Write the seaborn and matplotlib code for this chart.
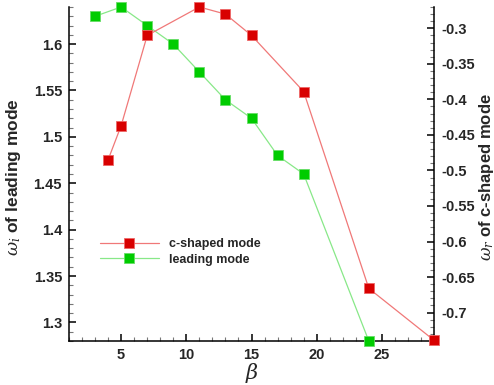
import numpy as np
import pandas as pd
import matplotlib
matplotlib.use("Agg")
import matplotlib.pyplot as plt
from matplotlib.lines import Line2D
from matplotlib.ticker import MultipleLocator
import seaborn as sns

# data
beta_c = [4, 5, 7, 11, 13, 15, 19, 24, 29]
omega_r_c = [-0.485, -0.437, -0.31, -0.27, -0.28, -0.31, -0.389, -0.666, -0.739]
beta_lead = [3, 5, 7, 9, 11, 13, 15, 17, 19, 24]
omega_i_lead = [1.63, 1.64, 1.62, 1.60, 1.57, 1.54, 1.52, 1.48, 1.46, 1.28]
label_c = "c-shaped mode"
label_lead = "leading mode"

sns.set_theme(style="ticks")
plt.rcParams['font.family'] = ['Liberation Sans', 'DejaVu Sans']
plt.rcParams['mathtext.fontset'] = 'dejavuserif'

fig = plt.figure(figsize=(4.94, 3.85), dpi=100)
ax = fig.add_axes([69/494, 1-341/385, (434-69)/494, (341-7)/385])
ax2 = ax.twinx()

red_face = "#d80000"
red_line = "#f07878"
green_face = "#00cc00"
green_line = "#88e888"

df_l = pd.DataFrame({"beta": beta_lead, "w": omega_i_lead})
df_c = pd.DataFrame({"beta": beta_c, "w": omega_r_c})

sns.lineplot(data=df_l, x="beta", y="w", ax=ax, color=green_line, lw=0.9,
             marker="s", markersize=7.5, markerfacecolor=green_face,
             markeredgecolor="#66dd66", markeredgewidth=0.6, clip_on=False, zorder=3)
sns.lineplot(data=df_c, x="beta", y="w", ax=ax2, color=red_line, lw=0.9,
             marker="s", markersize=7.5, markerfacecolor=red_face,
             markeredgecolor="#ee6666", markeredgewidth=0.6, clip_on=False, zorder=3)

ax.set_xlim(1, 29)
ax.set_ylim(1.28, 1.64)
ax2.set_ylim(-0.74, -0.27)

ax.xaxis.set_major_locator(MultipleLocator(5))
ax.xaxis.set_minor_locator(MultipleLocator(1))
ax.yaxis.set_major_locator(MultipleLocator(0.05))
ax.yaxis.set_minor_locator(MultipleLocator(0.01))
ax2.yaxis.set_major_locator(MultipleLocator(0.05))
ax2.yaxis.set_minor_locator(MultipleLocator(0.01))

def fmt(v, pos):
    s = f"{v:.2f}".rstrip('0').rstrip('.')
    return s
ax.yaxis.set_major_formatter(matplotlib.ticker.FuncFormatter(fmt))
ax2.yaxis.set_major_formatter(matplotlib.ticker.FuncFormatter(fmt))
ax.xaxis.set_major_formatter(matplotlib.ticker.FuncFormatter(fmt))

for a in (ax, ax2):
    a.tick_params(which="major", direction="in", length=5, width=1.1, color="black",
                  labelsize=10.5, pad=5)
    a.tick_params(which="minor", direction="in", length=3, width=0.8, color="#777777")
    for lab in a.get_xticklabels() + a.get_yticklabels():
        lab.set_fontweight("bold")
    a.spines["top"].set_visible(False)
    for s in ("left", "right", "bottom"):
        a.spines[s].set_linewidth(1.1)
        a.spines[s].set_color("black")
ax2.spines["left"].set_visible(False)
ax2.spines["bottom"].set_visible(False)
ax.spines["right"].set_visible(False)

ax.set_xlabel(r"$\beta$", fontsize=15, labelpad=-1)
ax.set_ylabel(r"$\omega_i$ of leading mode", fontsize=12.5, fontweight="bold")
ax.yaxis.set_label_coords((23-69)/365, 0.49)
ax2.set_ylabel(r"$\omega_r$ of c-shaped mode", fontsize=12, fontweight="bold",
               va="center")
ax2.yaxis.set_label_coords((486-69)/365, 0.49)

handles = [
    Line2D([], [], color=red_line, lw=0.9, marker="s", markersize=7.5,
           markerfacecolor=red_face, markeredgecolor="#ee6666", markeredgewidth=0.6),
    Line2D([], [], color=green_line, lw=0.9, marker="s", markersize=7.5,
           markerfacecolor=green_face, markeredgecolor="#66dd66", markeredgewidth=0.6),
]
ax2.legend(handles, [label_c, label_lead], loc="upper left",
           bbox_to_anchor=((100-69)/365, (341-238)/334), frameon=False,
           prop={"weight": "bold", "size": 9}, handlelength=4.7, handletextpad=0.8,
           labelspacing=0.3, borderpad=0, borderaxespad=0)

fig.savefig("out.png", dpi=100)
